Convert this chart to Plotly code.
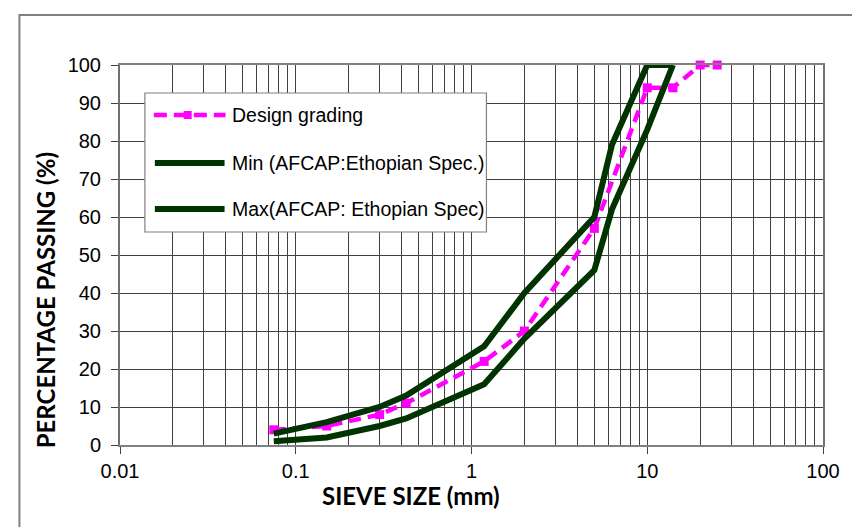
import plotly.graph_objects as go

# ---------------- data ----------------
design_sieve = [0.075, 0.15, 0.3, 0.425, 1.18, 2.0, 5.0, 10.0, 14.0, 20.0, 25.0]
design_pass = [4, 5, 8, 11, 22, 30, 57, 94, 94, 100, 100]

min_sieve = [0.075, 0.15, 0.3, 0.425, 1.18, 2.0, 5.0, 6.3, 10.0, 14.0]
min_pass = [1, 2, 5, 7, 16, 28, 46, 62, 83, 100]

max_sieve = [0.075, 0.15, 0.3, 0.425, 1.18, 2.0, 5.0, 6.3, 10.0, 14.0]
max_pass = [3, 6, 10, 13, 26, 40, 60, 79, 100, 100]

names = ["Design grading", "Min (AFCAP:Ethopian Spec.)", "Max(AFCAP: Ethopian Spec)"]
x_tick_vals = [0.01, 0.1, 1, 10, 100]
x_tick_text = ["0.01", "0.1", "1", "10", "100"]
y_tick_vals = [0, 10, 20, 30, 40, 50, 60, 70, 80, 90, 100]
minor_vals = [m * 10 ** e for e in range(-2, 2) for m in range(2, 10)]

# ---------------- layout geometry ----------------
W, H = 852, 527
L, R, T, B = 120, 826, 65, 445


def px_x(p):
    return (p - L) / (R - L)


def px_y(p):
    return (B - p) / (B - T)


PINK = "#FF00FF"
GREEN = "#003300"
GRID = "#404040"
FONT = "Arial, Liberation Sans, sans-serif"

fig = go.Figure()
fig.add_trace(go.Scatter(
    x=design_sieve, y=design_pass, name=names[0], mode="lines+markers",
    line=dict(color=PINK, width=4.5, dash="12px,7px"),
    marker=dict(symbol="square", size=9, color=PINK),
    cliponaxis=False, showlegend=False))
fig.add_trace(go.Scatter(
    x=min_sieve, y=min_pass, name=names[1], mode="lines",
    line=dict(color=GREEN, width=6), cliponaxis=False, showlegend=False))
fig.add_trace(go.Scatter(
    x=max_sieve, y=max_pass, name=names[2], mode="lines",
    line=dict(color=GREEN, width=6), cliponaxis=False, showlegend=False))

shapes = []
# outer chart frame (extends past right/bottom edges)
shapes.append(dict(type="rect", xref="paper", yref="paper",
                   x0=px_x(19), x1=px_x(W + 20), y0=px_y(H + 20), y1=px_y(15),
                   line=dict(color="#808080", width=2), fillcolor="rgba(0,0,0,0)", layer="below"))
# legend box
shapes.append(dict(type="rect", xref="paper", yref="paper",
                   x0=px_x(145), x1=px_x(488), y0=px_y(232), y1=px_y(93),
                   line=dict(color="#808080", width=1.2), fillcolor="white", layer="above"))
leg_y = [115, 163, 209]
# legend symbols
shapes.append(dict(type="line", xref="paper", yref="paper",
                   x0=px_x(154), x1=px_x(226), y0=px_y(leg_y[0]), y1=px_y(leg_y[0]),
                   line=dict(color=PINK, width=4.5, dash="13px,7px"), layer="above"))
shapes.append(dict(type="rect", xref="paper", yref="paper",
                   x0=px_x(184), x1=px_x(192), y0=px_y(leg_y[0] + 4), y1=px_y(leg_y[0] - 4),
                   line=dict(width=0), fillcolor=PINK, layer="above"))
for yy in leg_y[1:]:
    shapes.append(dict(type="line", xref="paper", yref="paper",
                       x0=px_x(155), x1=px_x(225), y0=px_y(yy), y1=px_y(yy),
                       line=dict(color=GREEN, width=6), layer="above"))

annotations = []
for nm, yy in zip(names, leg_y):
    annotations.append(dict(text=nm, xref="paper", yref="paper", x=px_x(230), y=px_y(yy),
                            xanchor="left", yanchor="middle", showarrow=False,
                            font=dict(family=FONT, size=19.5, color="black")))
annotations.append(dict(text="<b>SIEVE SIZE (mm)</b>", xref="paper", yref="paper",
                        x=px_x(412), y=px_y(495), xanchor="center", yanchor="middle",
                        showarrow=False, font=dict(family="Lato, sans-serif", size=24, color="black")))
annotations.append(dict(text="<b>PERCENTAGE PASSING (%)</b>", xref="paper", yref="paper",
                        x=px_x(45), y=px_y(300), xanchor="center", yanchor="middle", textangle=-90,
                        showarrow=False, font=dict(family="Lato, sans-serif", size=24, color="black")))

fig.update_layout(
    width=W, height=H,
    margin=dict(l=L, r=W - R, t=T, b=H - B, pad=0),
    paper_bgcolor="white", plot_bgcolor="white",
    showlegend=False,
    shapes=shapes, annotations=annotations,
    font=dict(family=FONT, size=20, color="black"),
)
fig.update_xaxes(
    type="log", range=[-2, 2], tickmode="array", tickvals=x_tick_vals, ticktext=x_tick_text,
    showgrid=True, gridcolor=GRID, gridwidth=1,
    minor=dict(tickmode="array", tickvals=minor_vals, showgrid=True, gridcolor=GRID, gridwidth=1, ticks=""),
    ticks="outside", ticklen=7, tickcolor=GRID, tickwidth=1,
    showline=True, linecolor="#808080", linewidth=2, mirror=True,
    tickfont=dict(family=FONT, size=20, color="black"), zeroline=False,
)
fig.update_yaxes(
    range=[0, 100], tickmode="array", tickvals=y_tick_vals,
    showgrid=True, gridcolor=GRID, gridwidth=1,
    ticks="outside", ticklen=7, tickcolor=GRID, tickwidth=1,
    showline=True, linecolor="#707070", linewidth=2, mirror=True,
    tickfont=dict(family=FONT, size=20, color="black"), zeroline=False,
    ticklabelstandoff=6,
)

fig.write_html("out.html")
